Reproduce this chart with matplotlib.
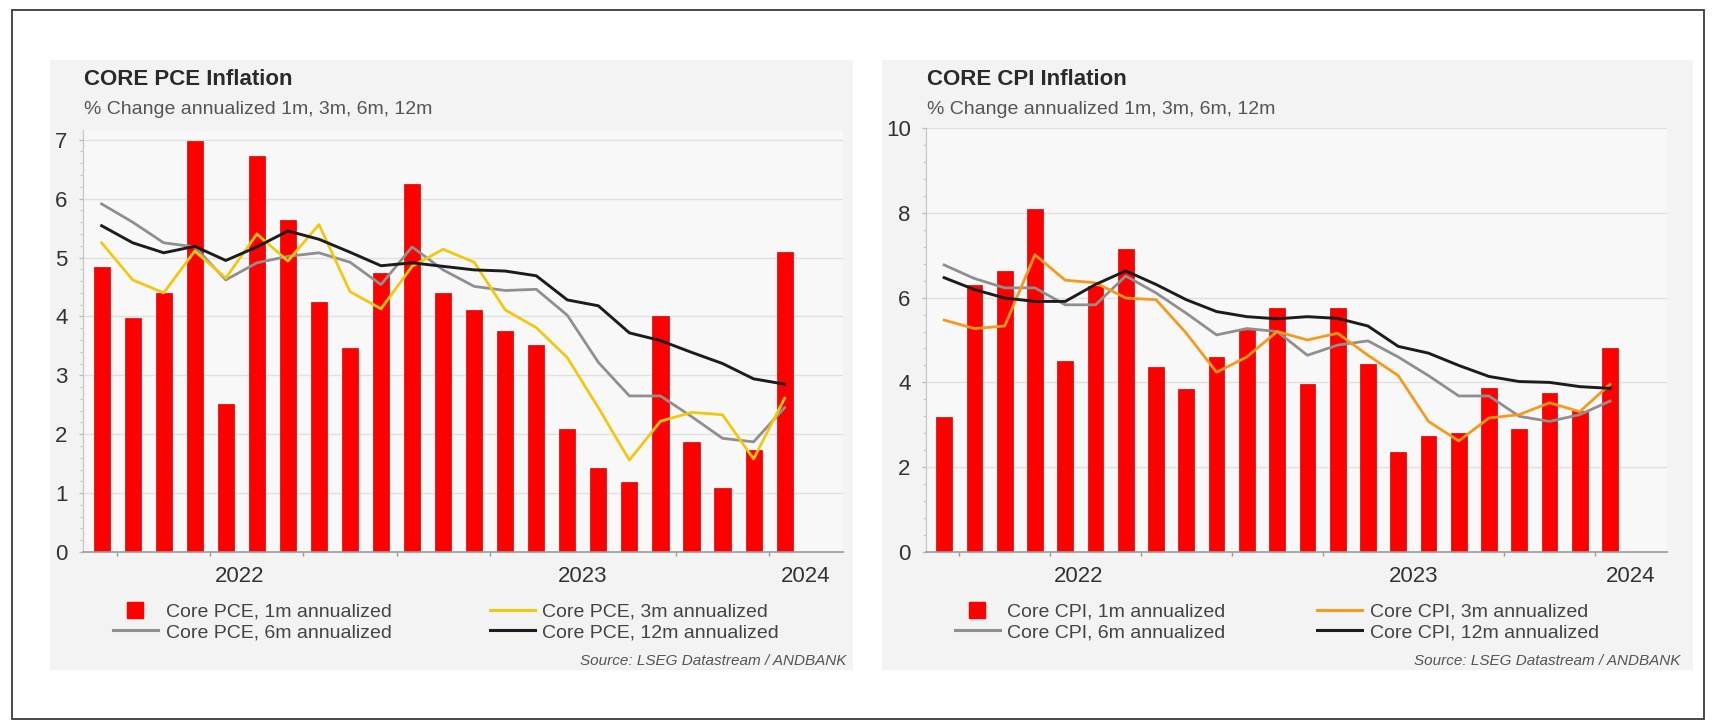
import matplotlib.pyplot as plt
import numpy as np
from matplotlib.lines import Line2D
from matplotlib.patches import Rectangle
from matplotlib.ticker import MultipleLocator

plt.rcParams['font.family'] = ['Liberation Sans', 'DejaVu Sans']

# monthly data, Mar 2022 .. Jan 2024
months = np.arange(23)
years = ['2022', '2023', '2024']

pce_1m = [4.84, 3.97, 4.40, 6.98, 2.51, 6.72, 5.64, 4.24, 3.46, 4.74, 6.25, 4.40,
          4.11, 3.75, 3.52, 2.09, 1.43, 1.19, 4.01, 1.86, 1.08, 1.74, 5.10]
pce_3m = [5.25, 4.62, 4.40, 5.11, 4.65, 5.40, 4.94, 5.56, 4.42, 4.13, 4.85, 5.14,
          4.92, 4.11, 3.81, 3.30, 2.45, 1.56, 2.22, 2.37, 2.33, 1.58, 2.61]
pce_6m = [5.91, 5.60, 5.25, 5.18, 4.62, 4.91, 5.02, 5.08, 4.92, 4.54, 5.18, 4.79,
          4.51, 4.44, 4.46, 4.02, 3.22, 2.65, 2.65, 2.30, 1.93, 1.87, 2.45]
pce_12m = [5.54, 5.25, 5.08, 5.19, 4.95, 5.18, 5.45, 5.31, 5.09, 4.86, 4.91, 4.85,
           4.79, 4.77, 4.69, 4.28, 4.18, 3.72, 3.59, 3.39, 3.20, 2.94, 2.85]

cpi_1m = [3.19, 6.29, 6.63, 8.10, 4.50, 6.27, 7.15, 4.36, 3.84, 4.61, 5.24, 5.75,
          3.96, 5.75, 4.44, 2.37, 2.74, 2.80, 3.87, 2.90, 3.76, 3.32, 4.80]
cpi_3m = [5.47, 5.27, 5.33, 7.01, 6.41, 6.35, 5.99, 5.95, 5.16, 4.24, 4.60, 5.20,
          5.00, 5.16, 4.64, 4.16, 3.08, 2.62, 3.16, 3.24, 3.52, 3.31, 3.96]
cpi_6m = [6.77, 6.45, 6.23, 6.23, 5.83, 5.83, 6.51, 6.11, 5.63, 5.12, 5.27, 5.20,
          4.64, 4.88, 4.98, 4.60, 4.16, 3.68, 3.68, 3.20, 3.08, 3.24, 3.56]
cpi_12m = [6.47, 6.19, 5.99, 5.91, 5.91, 6.31, 6.63, 6.31, 5.95, 5.67, 5.55, 5.50,
           5.55, 5.51, 5.33, 4.85, 4.69, 4.40, 4.14, 4.02, 4.00, 3.90, 3.86]

W, H = 1718, 720
fig = plt.figure(figsize=(W / 100, H / 100), dpi=100)
fig.patch.set_facecolor('white')


def fx(x):
    return x / W


def fy(y):
    return 1 - y / H


# outer frame
fig.patches.append(Rectangle((fx(12), fy(719)), fx(1704 - 12), (719 - 10) / H,
                             transform=fig.transFigure, fill=False,
                             edgecolor='#3a3a3a', lw=1.3, zorder=-1))

XMIN, XMAX = -0.6, 23.88
RED = '#ff0000'
GRAY = '#8f8f8f'
BLACK = '#1c1c1c'


def panel(px0, px1, ax_x0, ax_x1, ymax, ystep, bars, l3, l6, l12, c3, name,
          leg1_x, leg2_x, src_x):
    # grey background panel
    fig.patches.append(Rectangle((fx(px0), fy(670)), fx(px1 - px0), 610 / H,
                                 transform=fig.transFigure, facecolor='#f3f3f3',
                                 edgecolor='none', zorder=-2))
    top = 128 if ymax == 10 else 130
    ax = fig.add_axes([fx(ax_x0), fy(552), fx(ax_x1 - ax_x0), (552 - top) / H])
    ax.set_facecolor('#f8f8f8')

    ax.bar(months, bars, width=0.52, color=RED, edgecolor='#d80000', lw=0.5, zorder=2)
    ax.plot(months, l6, color=GRAY, lw=2.0, zorder=3)
    ax.plot(months, l3, color=c3, lw=2.0, zorder=4)
    ax.plot(months, l12, color=BLACK, lw=2.1, zorder=5)

    ax.set_xlim(XMIN, XMAX)
    ax.set_ylim(0, ymax)
    ax.yaxis.set_major_locator(MultipleLocator(ystep))
    ax.yaxis.set_minor_locator(MultipleLocator(ystep / 5))
    for v in np.arange(ystep, ymax + 0.01, ystep):
        ax.axhline(v, color='#e0e0e0', lw=1.0, zorder=1)

    # quarter ticks at month boundaries, year labels at mid of visible year
    ax.set_xticks(np.arange(0.5, 22, 3), minor=True)
    mids = [(XMIN + 9.5) / 2, 15.5, (21.5 + XMAX) / 2]
    ax.set_xticks(mids)
    ax.set_xticklabels(years)
    ax.tick_params(axis='x', which='major', length=0, pad=10, labelsize=16,
                   labelcolor='#333333')
    ax.tick_params(axis='x', which='minor', length=3, width=1, color='#9a9a9a',
                   direction='out')
    ax.tick_params(axis='y', which='major', length=3, width=1, color='#b8bec6',
                   labelsize=16, labelcolor='#333333', pad=8)
    ax.tick_params(axis='y', which='minor', length=2, width=0.8, color='#c4c9d0')

    for s in ['top', 'right']:
        ax.spines[s].set_visible(False)
    ax.spines['left'].set_color('#c4c9d0')
    ax.spines['left'].set_linewidth(0.9)
    ax.spines['bottom'].set_color('#9a9a9a')
    ax.spines['bottom'].set_linewidth(1.2)

    # titles
    fig.text(fx(ax_x0 + 1), fy(85), 'CORE %s Inflation' % name, fontsize=16,
             fontweight='bold', color='#2a2a2a', va='baseline')
    fig.text(fx(ax_x0 + 1), fy(114), '% Change annualized 1m, 3m, 6m, 12m',
             fontsize=14, color='#555555', va='baseline')

    # legend, two columns
    h1 = Line2D([], [], marker='s', ls='', color=RED, markersize=12)
    h6 = Line2D([], [], color=GRAY, lw=2.2)
    h3 = Line2D([], [], color=c3, lw=2.2)
    h12 = Line2D([], [], color=BLACK, lw=2.2)
    kw = dict(frameon=False, fontsize=14, handlelength=2.3, handletextpad=0.4,
              labelspacing=0.15, borderpad=0, borderaxespad=0, loc='upper left',
              bbox_transform=fig.transFigure, labelcolor='#444444')
    fig.legend([h1, h6], ['Core %s, 1m annualized' % name,
                          'Core %s, 6m annualized' % name],
               bbox_to_anchor=(fx(leg1_x), fy(603)), **kw)
    fig.legend([h3, h12], ['Core %s, 3m annualized' % name,
                           'Core %s, 12m annualized' % name],
               bbox_to_anchor=(fx(leg2_x), fy(603)), **kw)
    fig.text(fx(src_x), fy(665), 'Source: LSEG Datastream / ANDBANK', fontsize=11,
             style='italic', color='#555555', ha='right', va='baseline')
    return ax


panel(50, 853, 83, 843, 7.165, 1, pce_1m, pce_3m, pce_6m, pce_12m, '#f2c80f',
      'PCE', 113, 490, 846)
panel(882, 1693, 926, 1667, 10, 2, cpi_1m, cpi_3m, cpi_6m, cpi_12m, '#f59a1b',
      'CPI', 955, 1317, 1680)

fig.savefig('out.png', dpi=100)
